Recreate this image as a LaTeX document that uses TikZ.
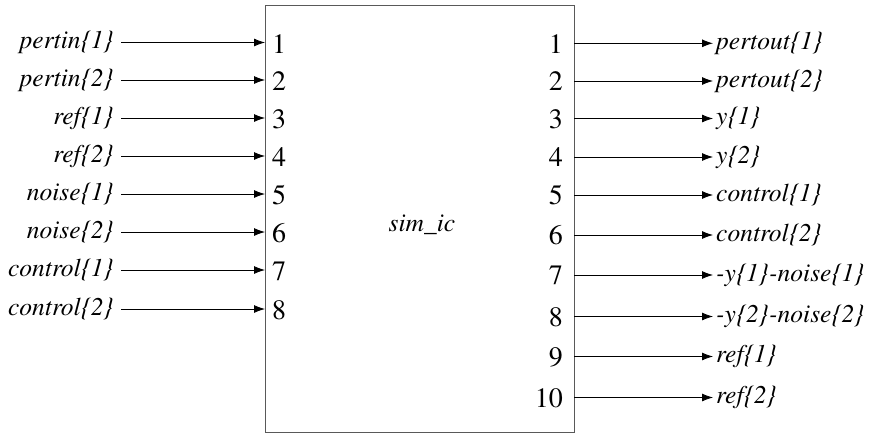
\documentclass[tikz,border=0pt]{standalone}
\usepackage[T1]{fontenc}
\usepackage{mathptmx}
\usetikzlibrary{arrows.meta}
\begin{document}
\begin{tikzpicture}[x=1pt,y=-1pt,
  lbl/.style={font=\fontsize{25.5}{27}\selectfont\itshape, inner sep=0pt},
  num/.style={font=\fontsize{28}{30}\selectfont, inner sep=0pt},
  sig/.style={draw=black, line width=0.8pt, -{Latex[length=11pt,width=8pt]}}]
\useasboundingbox (0,0) rectangle (880,436);
\node[draw=black!65, line width=1pt, minimum width=309pt, minimum height=427pt, inner sep=0pt, anchor=north west] (blk) at (265,5) {};
\node[lbl, anchor=base] (title) at (422,231) {sim\_ic};
% inputs
\foreach \i/\t [count=\k] in {42.5/pertin\{1\},80/pertin\{2\},118/ref\{1\},156/ref\{2\},194/noise\{1\},232/noise\{2\},270/control\{1\},309/control\{2\}} {
  \node[lbl, anchor=east] (in\k) at (114,\i) {\t};
  \node[num, anchor=west] (pi\k) at (272,\i+1.5) {\k};
  \coordinate (ia\k) at (121,\i);
  \coordinate (ib\k) at (265,\i);
  \draw[sig] (ia\k) -- (ib\k);
}
% outputs
\foreach \i/\t [count=\k] in {43.3/pertout\{1\},81/pertout\{2\},118.5/y\{1\},157/y\{2\},195/control\{1\},235/control\{2\},275/-y\{1\}-noise\{1\},316.5/-y\{2\}-noise\{2\},356.5/ref\{1\},397.5/ref\{2\}} {
  \node[lbl, anchor=west] (out\k) at (716,\i) {\t};
  \node[num, anchor=east] (po\k) at (563,\i+0.5) {\k};
  \coordinate (oa\k) at (574,\i);
  \coordinate (ob\k) at (713,\i);
  \draw[sig] (oa\k) -- (ob\k);
}
\end{tikzpicture}
\end{document}
